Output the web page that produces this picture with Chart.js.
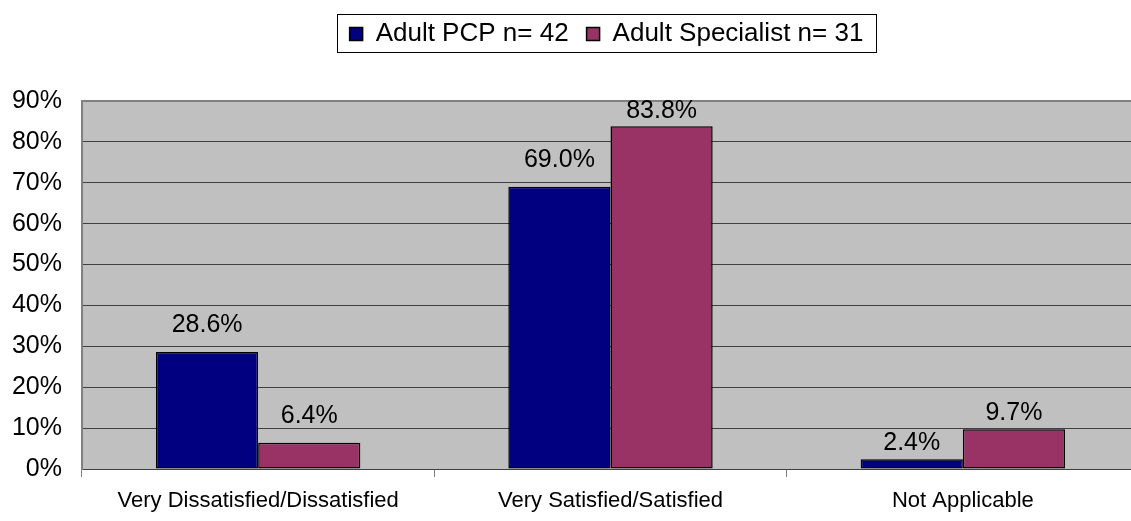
<!DOCTYPE html>
<html>
<head>
<meta charset="utf-8">
<script src="https://cdn.jsdelivr.net/npm/chart.js@4.4.1/dist/chart.umd.min.js"></script>
<style>
html,body{margin:0;padding:0;background:#fff;overflow:hidden;width:1131px;height:521px;}
canvas{display:block;}
</style>
</head>
<body>
<canvas id="c" width="1139" height="521"></canvas>
<script>
const categories = ['Very Dissatisfied/Dissatisfied', 'Very Satisfied/Satisfied', 'Not Applicable'];
const pcpValues = [28.6, 69.0, 2.4];
const specialistValues = [6.4, 83.8, 9.7];
const seriesNames = ['Adult PCP n= 42', 'Adult Specialist n= 31'];
const yTicks = [0, 10, 20, 30, 40, 50, 60, 70, 80, 90];

const FONT = "'Liberation Sans', Arial, sans-serif";

const plotBg = {
  id: 'plotBg',
  beforeDraw(chart) {
    const {ctx, chartArea: a} = chart;
    ctx.save();
    ctx.fillStyle = '#C0C0C0';
    ctx.fillRect(a.left, a.top, a.right - a.left, a.bottom - a.top);
    ctx.restore();
  }
};

const legendTweak = {
  id: 'legendTweak',
  beforeInit(chart) {
    const lg = chart.legend;
    const orig = lg.fit;
    lg.fit = function () {
      orig.call(this);
      this.height += 44;
    };
  },
  afterLayout(chart) {
    const lg = chart.legend;
    lg.left += 37; lg.right += 37;
  },
  afterDraw(chart) {
    const lg = chart.legend;
    const hb = lg.legendHitBoxes;
    if (!hb || !hb.length) return;
    let l = Infinity, r = -Infinity, t = Infinity;
    hb.forEach(h => { l = Math.min(l, h.left); r = Math.max(r, h.left + h.width); t = Math.min(t, h.top); });
    const ctx = chart.ctx;
    ctx.save();
    ctx.strokeStyle = '#000';
    ctx.lineWidth = 1;
    const x0 = Math.round(l - 13), x1 = Math.round(r + 13);
    ctx.strokeRect(x0 + 0.5, Math.round(t - 7) + 0.5, x1 - x0, 38);
    ctx.restore();
  }
};

const dataLabels = {
  id: 'dataLabels',
  afterDatasetsDraw(chart, args, opts) {
    const ctx = chart.ctx;
    const top = chart.chartArea.top;
    ctx.save();
    ctx.font = '25px ' + FONT;
    ctx.fillStyle = '#000';
    ctx.textAlign = 'center';
    ctx.textBaseline = 'alphabetic';
    chart.data.datasets.forEach((ds, di) => {
      chart.getDatasetMeta(di).data.forEach((bar, i) => {
        const y = Math.max(bar.y - opts.gaps[i], top + 17);
        ctx.fillText(ds.data[i].toFixed(1) + '%', bar.x, y);
      });
    });
    ctx.restore();
  }
};

new Chart(document.getElementById('c'), {
  type: 'bar',
  data: {
    labels: categories,
    datasets: [
      { label: seriesNames[0], data: pcpValues, backgroundColor: '#000080', borderColor: '#000', borderWidth: 1.5, borderSkipped: false },
      { label: seriesNames[1], data: specialistValues, backgroundColor: '#993366', borderColor: '#000', borderWidth: 1.5, borderSkipped: false }
    ]
  },
  options: {
    responsive: false,
    animation: false,
    devicePixelRatio: 1,
    layout: { padding: { top: 3, left: 0, right: 0, bottom: 0 } },
    datasets: { bar: { barPercentage: 1.0, categoryPercentage: 0.58 } },
    plugins: {
      legend: {
        position: 'top',
        labels: {
          font: { family: FONT, size: 26 },
          color: '#000',
          boxWidth: 13,
          boxHeight: 13,
          padding: 18
        }
      },
      dataLabels: { gaps: [20, 20, 9] },
      tooltip: { enabled: false }
    },
    scales: {
      x: {
        afterFit(scale) { scale.height = 52; },
        grid: { drawOnChartArea: false, drawTicks: true, tickLength: 8, color: '#808080' },
        border: { display: true, color: '#404040', width: 1 },
        ticks: { font: { family: FONT, size: 22 }, color: '#000', padding: 11, maxRotation: 0 }
      },
      y: {
        min: 0, max: 90,
        afterFit(scale) { scale.width = 82; },
        afterBuildTicks(scale) { scale.ticks = yTicks.map(v => ({ value: v })); },
        grid: {
          drawTicks: false,
          color: ctx => (ctx.tick && ctx.tick.value === 90) ? '#808080' : '#404040',
          lineWidth: ctx => (ctx.tick && ctx.tick.value === 90) ? 2 : 1
        },
        border: { display: true, color: '#808080', width: 2 },
        ticks: { font: { family: FONT, size: 25 }, color: '#000', padding: 20, callback: v => v + '%' }
      }
    }
  },
  plugins: [plotBg, legendTweak, dataLabels]
});
</script>
</body>
</html>
